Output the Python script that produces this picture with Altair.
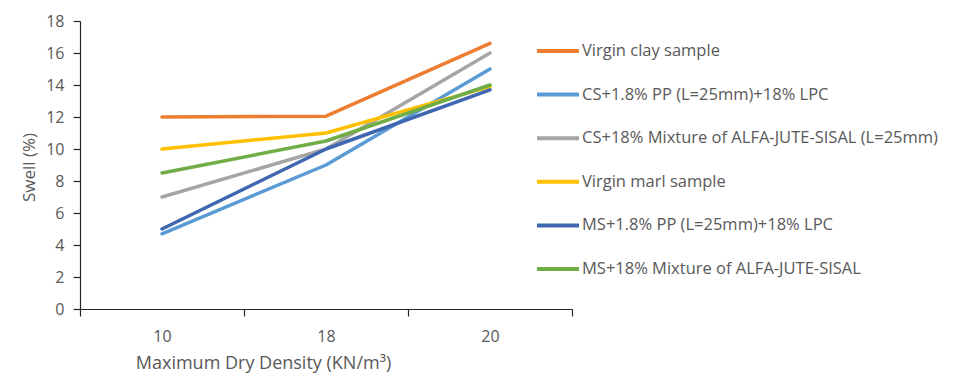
import altair as alt
import pandas as pd

density = ["10", "18", "20"]
series = [
    "Virgin clay sample",
    "CS+1.8% PP (L=25mm)+18% LPC",
    "CS+18% Mixture of ALFA-JUTE-SISAL (L=25mm)",
    "Virgin marl sample",
    "MS+1.8% PP (L=25mm)+18% LPC",
    "MS+18% Mixture of ALFA-JUTE-SISAL",
]
virgin_clay = [12.0, 12.05, 16.6]
cs_pp = [4.7, 9.0, 15.0]
cs_mix = [7.0, 10.0, 16.0]
virgin_marl = [10.0, 11.0, 13.9]
ms_pp = [5.0, 10.0, 13.7]
ms_mix = [8.5, 10.5, 14.0]
colors = ["#ED7D31", "#5B9BD5", "#A5A5A5", "#FFC000", "#3F67B1", "#70AD47"]

rows = []
for name, vals in zip(series, [virgin_clay, cs_pp, cs_mix, virgin_marl, ms_pp, ms_mix]):
    for d, v in zip(density, vals):
        rows.append({"Density": d, "Swell": v, "Series": name})
df = pd.DataFrame(rows)

FONT = "Open Sans"
GRAY = "#595959"
AXIS = "#262626"

chart = alt.Chart(df).mark_line(strokeWidth=3.5, strokeCap="round", strokeJoin="round").encode(
    x=alt.X("Density:N", sort=density, bandPosition=0.5,
            scale=alt.Scale(type="band", domain=density, paddingInner=0, paddingOuter=0),
            axis=alt.Axis(title="Maximum Dry Density (KN/m³)", labelAngle=0, tickBand="extent",
                          tickSize=7, labelPadding=12, grid=False,
                          titleX=183, titleY=45, titleAlign="center", titleBaseline="top",
                          domainColor=AXIS, tickColor=AXIS, domainWidth=1.2, tickWidth=1.2,
                          labelColor=GRAY, titleColor=GRAY, labelFontSize=16, titleFontSize=18,
                          labelFont=FONT, titleFont=FONT, titleFontWeight="normal")),
    y=alt.Y("Swell:Q", scale=alt.Scale(domain=[0, 18]),
            axis=alt.Axis(title="Swell (%)", values=list(range(0, 19, 2)), tickSize=7,
                          labelPadding=9, grid=False,
                          titleX=-51, titleY=146, titleAlign="center", titleBaseline="middle",
                          titleAngle=-90,
                          domainColor=AXIS, tickColor=AXIS, domainWidth=1.2, tickWidth=1.2,
                          labelColor=GRAY, titleColor=GRAY, labelFontSize=16, titleFontSize=17,
                          labelFont=FONT, titleFont=FONT, titleFontWeight="normal")),
    color=alt.Color("Series:N", sort=series,
                    scale=alt.Scale(domain=series, range=colors),
                    legend=alt.Legend(title=None, orient="none", legendX=455, legendY=7,
                                      symbolType="stroke", symbolSize=1764, symbolStrokeWidth=4,
                                      labelFontSize=16.5, labelFont=FONT, labelColor=GRAY,
                                      labelOffset=1, rowPadding=11.6, labelLimit=420)),
    order=alt.Order("Density:N"),
).properties(
    width=492, height=288,
    autosize=alt.AutoSizeParams(type="none"),
    padding={"left": 72, "top": 13, "right": 385, "bottom": 64},
).configure_view(stroke=None)

chart.save("out.html", embed_options={"renderer": "svg", "actions": False})
